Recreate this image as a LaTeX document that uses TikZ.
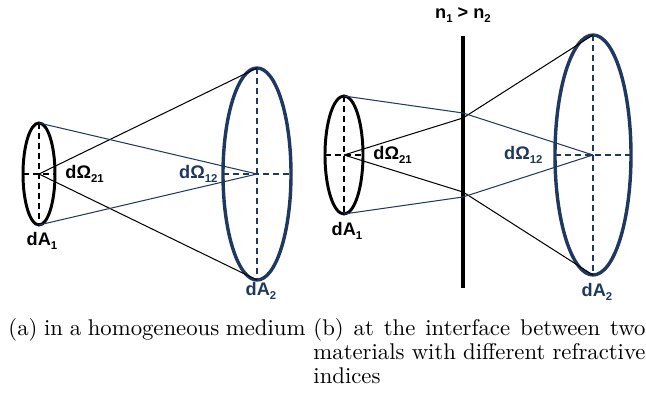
\documentclass[tikz,border=0pt]{standalone}
\usepackage{fontspec}
\usepackage{xcolor}
\usepackage{tikz}
\usetikzlibrary{positioning, arrows.meta, shapes.geometric, calc}

\newfontfamily\lblfont{Liberation Sans}
\definecolor{navy}{RGB}{31,56,96}
\newcommand{\lsub}[1]{\raisebox{-0.35ex}{\fontsize{5}{5}\selectfont #1}}

\begin{document}
\begin{tikzpicture}[
  x=0.44pt, y=-0.44pt,
  surf/.style 2 args={draw, ellipse, inner sep=0pt, outer sep=0pt, minimum width=#1*0.88pt, minimum height=#2*0.88pt},
  srcsurf/.style={line width=1.3pt, draw=black},
  dstsurf/.style={line width=1.5pt, draw=navy},
  axis/.style={dash pattern=on 2.6pt off 1.8pt, line width=0.6pt},
  ray/.style={line width=0.45pt, draw=black},
  bluray/.style={line width=0.45pt, draw=navy},
  interface/.style={line width=1.5pt, draw=black},
  lbl/.style={font=\lblfont\bfseries\fontsize{8}{9.6}\selectfont, inner sep=0pt},
  capline/.style={anchor=base west, inner sep=0pt, font=\fontsize{10}{12}\selectfont},
]
\useasboundingbox (0,0) rectangle (646,394);

% ================= (a) 均匀介质 =================
% 面元 dA1 与 dA2
\node[surf={16}{51}, srcsurf] (A1a) at (39,174) {};
\node[surf={34}{106}, dstsurf] (A2a) at (257,174) {};

% 对称轴
\draw[axis, black] (A1a.north) -- (A1a.south);
\draw[axis, black] (A1a.west) -- (A1a.east);
\draw[axis, navy] (A2a.north) -- (A2a.south);
\draw[axis, navy] (A2a.west) -- (A2a.east);

% 立体角边界
\draw[ray] (A1a.center) -- (A2a.north);
\draw[ray] (A1a.center) -- (A2a.south);
\draw[bluray] (A1a.north) -- (A2a.center);
\draw[bluray] (A1a.south) -- (A2a.center);

% 标注
\node[lbl, anchor=west] (om21a) at (65,174) {dΩ\lsub{21}};
\node[lbl, navy, anchor=east] (om12a) at (218,174) {dΩ\lsub{12}};
\node[lbl] (dA1a) at (42,241) {dA\lsub{1}};
\node[lbl, navy] (dA2a) at (261,291) {dA\lsub{2}};

% ================= (b) 折射界面 =================
\node[surf={19}{59}, srcsurf] (A1b) at (344,155) {};
\node[surf={38}{120}, dstsurf] (A2b) at (593,155) {};

\draw[axis, black] (A1b.north) -- (A1b.south);
\draw[axis, black] (A1b.west) -- (A1b.east);
\draw[axis, navy] (A2b.north) -- (A2b.south);
\draw[axis, navy] (A2b.west) -- (A2b.east);

% 界面
\coordinate (itop) at (463,36);
\coordinate (ibot) at (463,288);
\draw[interface] (itop) -- (ibot);
\node[lbl] (nlbl) at (463,15) {n\lsub{1} > n\lsub{2}};

% 折射点
\coordinate (hb1) at (463,118);
\coordinate (hu1) at (463,113);
\coordinate (hb2) at (463,192);
\coordinate (hu2) at (463,197);

% 折射光线
\draw[ray] (A1b.center) -- (hb1) -- (A2b.north);
\draw[ray] (A1b.center) -- (hb2) -- (A2b.south);
\draw[bluray] (A1b.north) -- (hu1) -- (A2b.center);
\draw[bluray] (A1b.south) -- (hu2) -- (A2b.center);

\node[lbl, anchor=west] (om21b) at (373,155) {dΩ\lsub{21}};
\node[lbl, navy, anchor=east] (om12b) at (543,155) {dΩ\lsub{12}};
\node[lbl] (dA1b) at (347,231) {dA\lsub{1}};
\node[lbl, navy] (dA2b) at (597,292) {dA\lsub{2}};

% ================= 子图标题 =================
\node[capline] (capa) at (8,336) {\makebox[130.7pt][s]{(a) in a homogeneous medium}};
\node[capline] (capb1) at (313,336) {\makebox[146.1pt][s]{(b) at the interface between two}};
\node[capline] (capb2) at (313,360) {\makebox[146.1pt][s]{materials with different refractive}};
\node[capline] (capb3) at (313,384) {indices};

\end{tikzpicture}
\end{document}
